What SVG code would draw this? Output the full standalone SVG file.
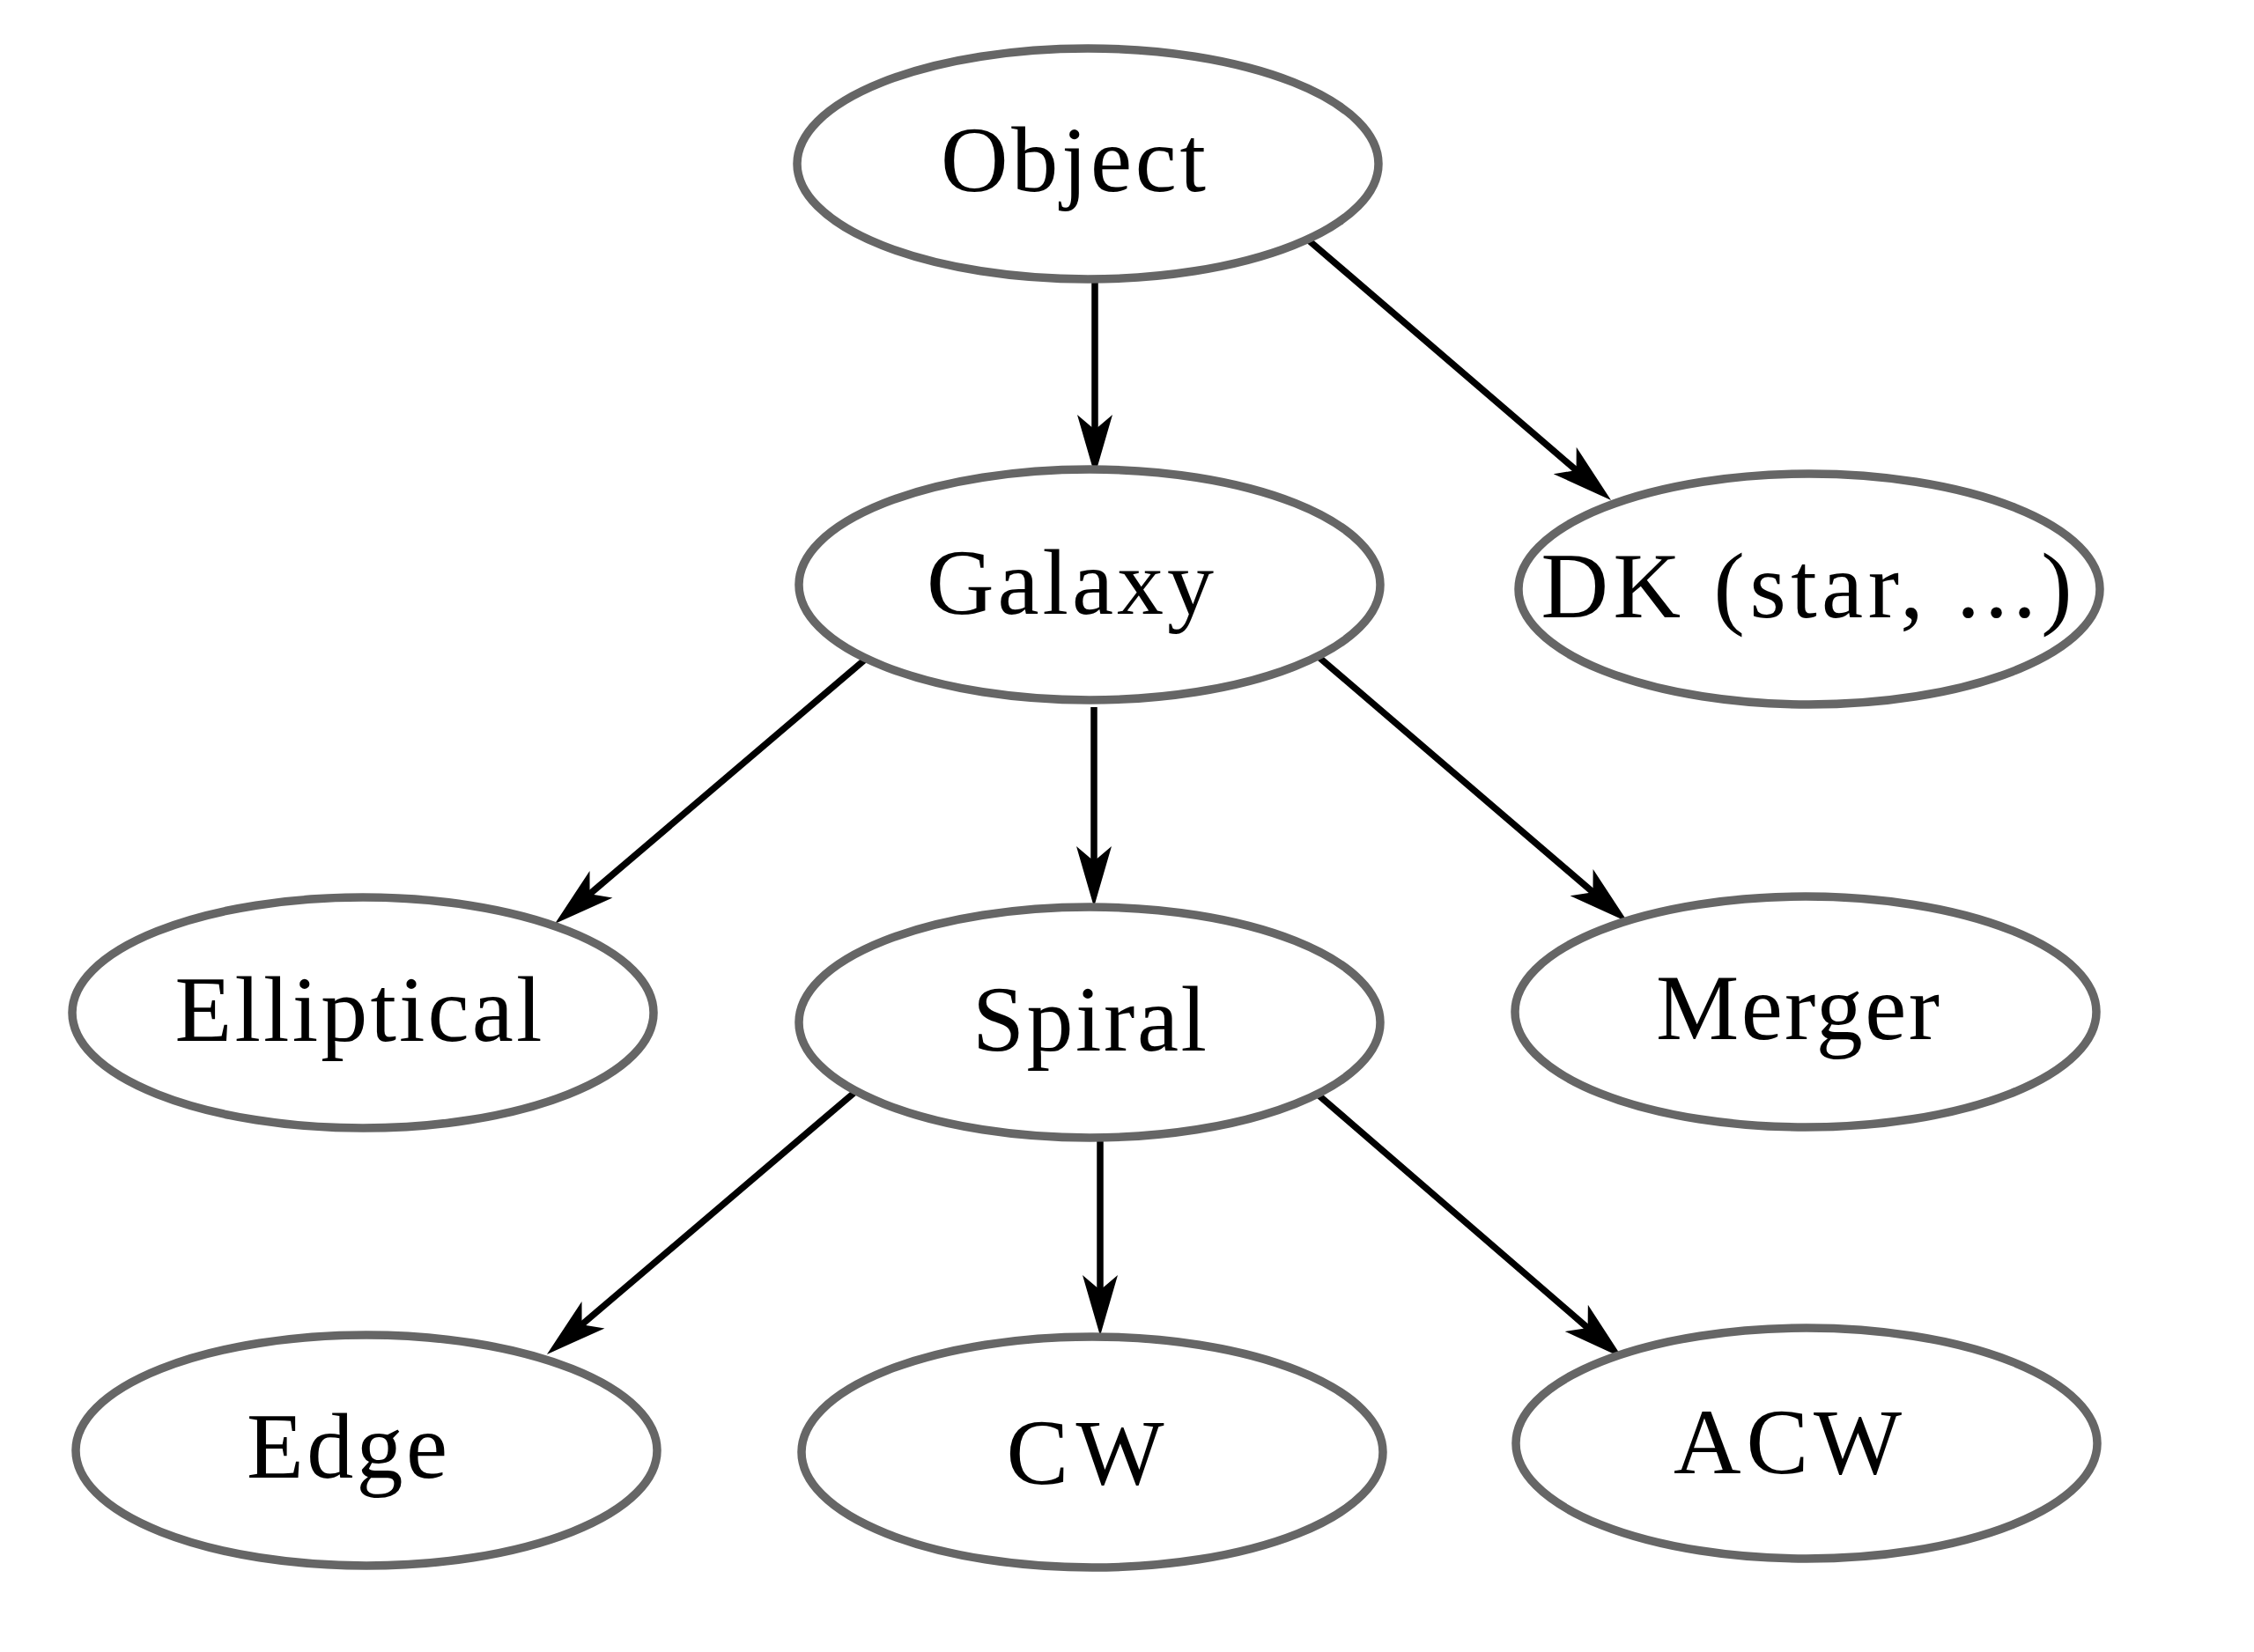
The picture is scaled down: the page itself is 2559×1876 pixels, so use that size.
<svg xmlns="http://www.w3.org/2000/svg" width="2559" height="1876" viewBox="0 0 2559 1876">
  <style>
    .node ellipse { fill: #ffffff; stroke: #666666; stroke-width: 9.5; }
    .node text { font-family: "Liberation Serif", "DejaVu Serif", serif; font-size: 106px; fill: #000000; text-anchor: middle; }
    .edge { stroke: #000000; stroke-width: 7.5; fill: none; marker-end: url(#arrow); }
  </style>
  <defs>
    <marker id="arrow" markerUnits="userSpaceOnUse" viewBox="-72 -22 74 44" markerWidth="74" markerHeight="44" refX="-40" refY="0" orient="auto">
      <path d="M0,0 L-69,-20 L-52,0 L-69,20 Z" fill="#000000"/>
    </marker>
  </defs>
  <rect x="0" y="0" width="2559" height="1876" fill="#ffffff"/>

  <g id="connectors">
    <line class="edge" x1="1243" y1="313" x2="1243" y2="500"/>
    <line class="edge" x1="1480" y1="268" x2="1798.7" y2="541.9"/>
    <line class="edge" x1="982" y1="749" x2="660.4" y2="1023"/>
    <line class="edge" x1="1242" y1="803" x2="1242" y2="990"/>
    <line class="edge" x1="1497" y1="746" x2="1817.6" y2="1021"/>
    <line class="edge" x1="972" y1="1239" x2="651.4" y2="1512"/>
    <line class="edge" x1="1249" y1="1290" x2="1249" y2="1477"/>
    <line class="edge" x1="1495" y1="1242" x2="1811.7" y2="1515.8"/>
  </g>

  <g id="node-object" class="node">
    <ellipse cx="1235" cy="186" rx="330" ry="131"/>
    <text x="1218.5" y="217" textLength="301">Object</text>
  </g>
  <g id="node-galaxy" class="node">
    <ellipse cx="1237" cy="664" rx="330" ry="131"/>
    <text x="1215" y="697" textLength="326">Galaxy</text>
  </g>
  <g id="node-dk" class="node">
    <ellipse cx="2054" cy="669" rx="330" ry="131"/>
    <text x="2051" y="701" textLength="603">DK (star, ...)</text>
  </g>
  <g id="node-elliptical" class="node">
    <ellipse cx="412" cy="1150" rx="330" ry="131"/>
    <text x="407" y="1182" textLength="417">Elliptical</text>
  </g>
  <g id="node-spiral" class="node">
    <ellipse cx="1237" cy="1161" rx="330" ry="131"/>
    <text x="1237" y="1193" textLength="266">Spiral</text>
  </g>
  <g id="node-merger" class="node">
    <ellipse cx="2050" cy="1149" rx="330" ry="131"/>
    <text x="2041" y="1180" textLength="322">Merger</text>
  </g>
  <g id="node-edge" class="node">
    <ellipse cx="416" cy="1647" rx="330" ry="131"/>
    <text x="394" y="1678" textLength="228">Edge</text>
  </g>
  <g id="node-cw" class="node">
    <ellipse cx="1240" cy="1649" rx="330" ry="131"/>
    <text x="1232" y="1685" textLength="179">CW</text>
  </g>
  <g id="node-acw" class="node">
    <ellipse cx="2051" cy="1639" rx="330" ry="131"/>
    <text x="2029.5" y="1673" textLength="259">ACW</text>
  </g>
</svg>
